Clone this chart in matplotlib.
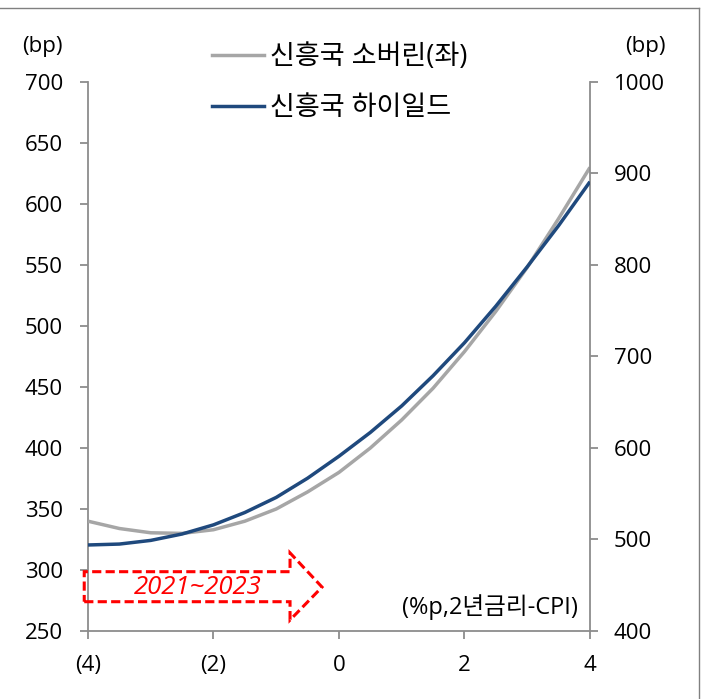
import numpy as np
import matplotlib.pyplot as plt
from matplotlib.patches import Polygon
from matplotlib.lines import Line2D

plt.rcParams['font.family'] = ['Open Sans', 'Noto Sans CJK KR', 'DejaVu Sans']

# values (x: %p, 2y rate - CPI)
x_vals = [-4, -3.5, -3, -2.5, -2, -1.5, -1, -0.5, 0, 0.5, 1, 1.5, 2, 2.5, 3, 3.5, 4]
sovereign = [340, 334, 330.5, 330, 333, 340, 350, 364, 380, 400, 423, 449, 479, 512, 548, 588, 630]
high_yield = [494, 495, 499, 506, 516, 529.5, 546, 567, 591, 617, 646, 679, 715, 755, 798, 843, 891]
x_ticks = [-4, -2, 0, 2, 4]
x_ticklabels = ['(4)', '(2)', '0', '2', '4']
left_ticks = [250, 300, 350, 400, 450, 500, 550, 600, 650, 700]
right_ticks = [400, 500, 600, 700, 800, 900, 1000]

grey = '#A6A6A6'
navy = '#1F497D'
axis_c = '#8C8C8C'

fig = plt.figure(figsize=(7.04, 6.99), dpi=100)
ax = fig.add_axes([0.125, 0.0973, 0.713, 0.7854])
ax2 = ax.twinx()

ax.plot(x_vals, sovereign, color=grey, lw=2.5, solid_capstyle='butt', zorder=3)
ax2.plot(x_vals, high_yield, color=navy, lw=2.5, solid_capstyle='butt', zorder=3)

ax.set_xlim(-4, 4)
ax.set_ylim(250, 700)
ax2.set_ylim(400, 1000)
ax.set_xticks(x_ticks)
ax.set_xticklabels(x_ticklabels)
ax.set_yticks(left_ticks)
ax2.set_yticks(right_ticks)

for a in (ax, ax2):
    a.spines['top'].set_visible(False)
    for s in ('left', 'right', 'bottom'):
        a.spines[s].set_color(axis_c)
        a.spines[s].set_linewidth(1.3)
    a.tick_params(colors=axis_c, labelcolor='black', labelsize=16,
                  length=6, width=1.3, direction='out')
ax.spines['right'].set_visible(False)
ax2.spines['left'].set_visible(False)
ax2.spines['bottom'].set_visible(False)
ax.tick_params(axis='y', pad=12)
ax.tick_params(axis='x', pad=11)
ax2.tick_params(axis='y', pad=11)

fig.text(0.031, 0.933, '(bp)', fontsize=16, ha='left', va='center')
fig.text(0.946, 0.933, '(bp)', fontsize=16, ha='right', va='center')

ax.text(3.8, 259, '(%p,2년금리-CPI)', fontsize=17, ha='right', va='bottom')

# dashed arrow with period label
arrow_pts = [(-4.06, 274), (-0.78, 274), (-0.78, 259), (-0.27, 286),
             (-0.78, 314), (-0.78, 298.6), (-4.06, 298.6)]
ax.add_patch(Polygon(arrow_pts, closed=True, fill=False, edgecolor='#FF0000',
                     lw=2.2, ls=(0, (3, 1.4)), clip_on=False, zorder=4))
ax.text(-2.25, 286, '2021~2023', color='#FF0000', fontsize=18.5, style='italic',
        ha='center', va='center', zorder=5)

handles = [Line2D([], [], color=grey, lw=2.5), Line2D([], [], color=navy, lw=2.5)]
fig.legend(handles, ['신흥국 소버린(좌)', '신흥국 하이일드'], loc='upper left',
           bbox_to_anchor=(0.266, 0.973), frameon=False, fontsize=19.5,
           handlelength=1.95, handletextpad=0.2, labelspacing=0.85)

# outer frame
fig.add_artist(Line2D([0, 0.993], [0.9886, 0.9886], color='#808080', lw=1))
fig.add_artist(Line2D([0.993, 0.993], [0, 0.9886], color='#808080', lw=1))

fig.savefig('out.png', dpi=100)
